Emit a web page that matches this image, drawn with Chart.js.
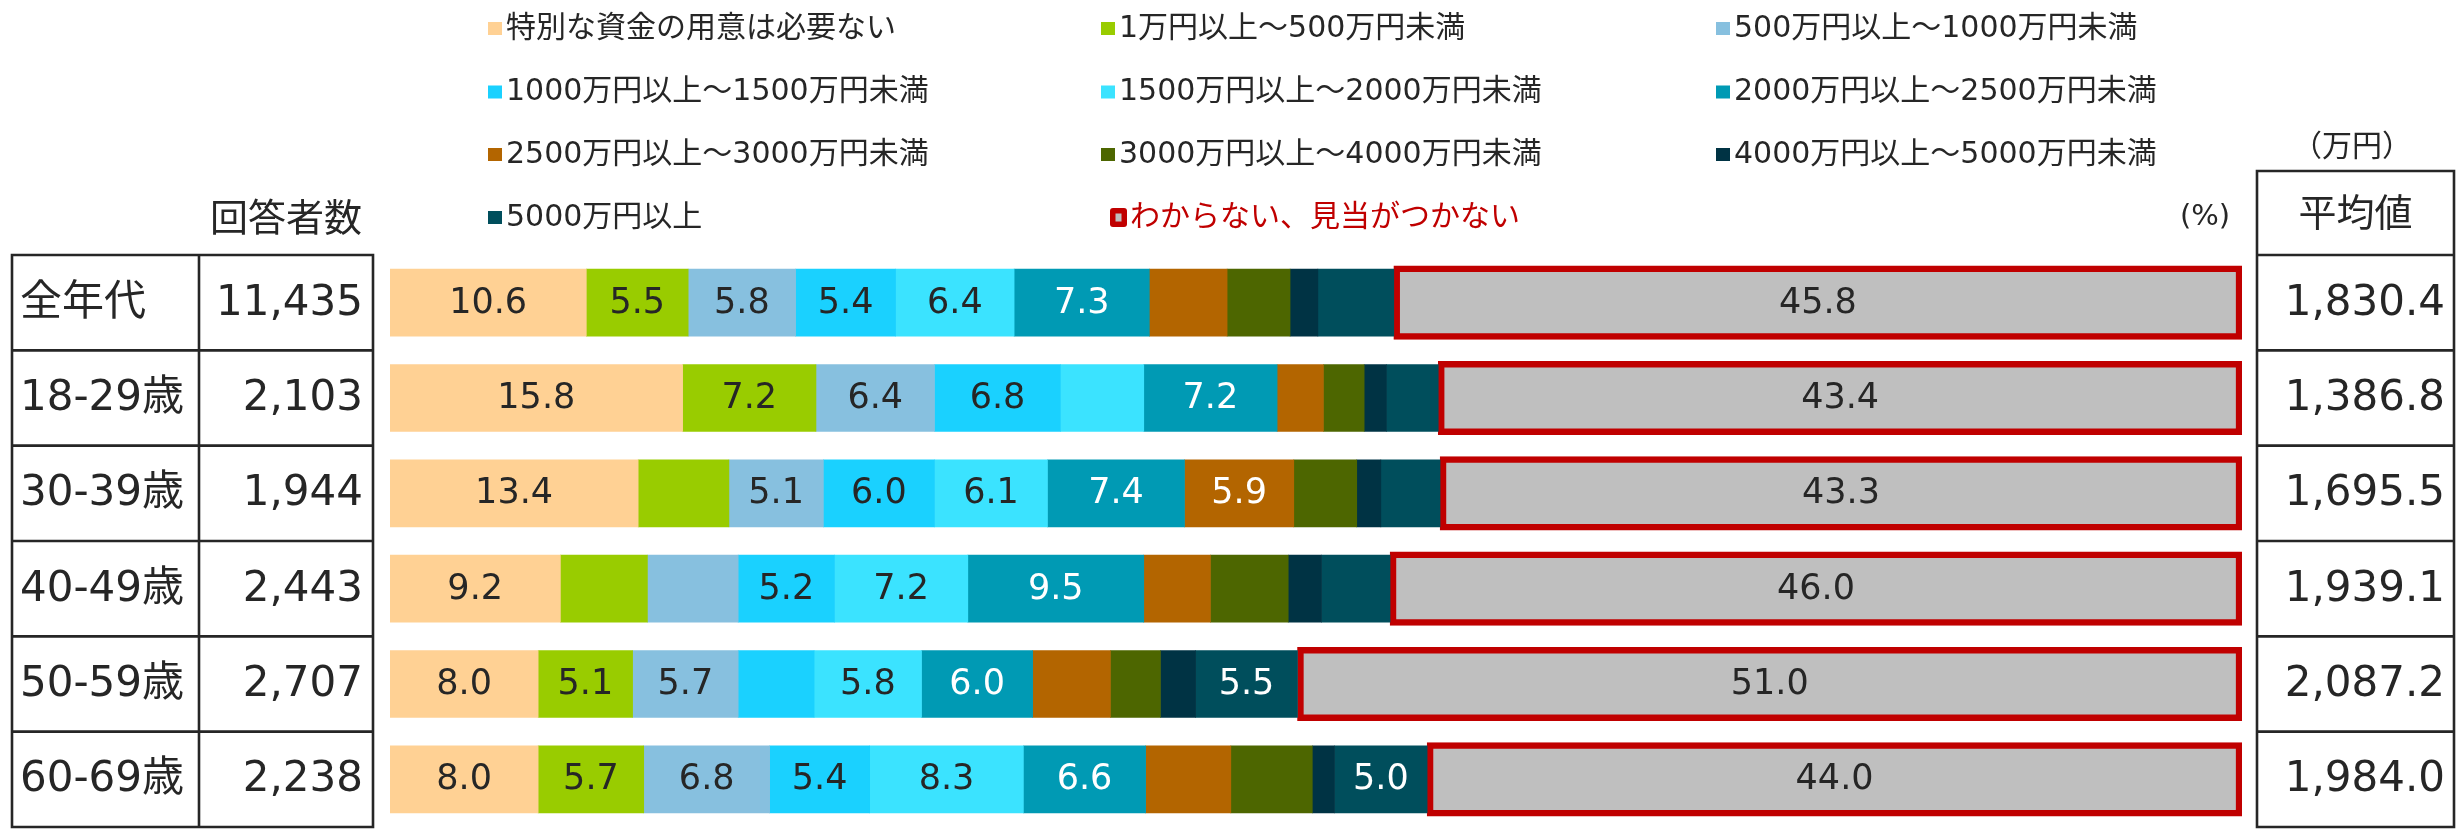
<!DOCTYPE html>
<html lang="ja">
<head>
<meta charset="utf-8">
<title>老後資金の必要額（年代別）</title>
<script src="https://cdn.jsdelivr.net/npm/chart.js@4.4.1/dist/chart.umd.min.js"></script>
<style>
  html, body { margin: 0; padding: 0; background: #ffffff; }
  canvas { display: block; }
</style>
</head>
<body>
<canvas id="chart" width="2459" height="830"></canvas>
<script>
// Age groups (rows), respondent counts and average amount (万円)
const ageGroups   = ['全年代', '18-29歳', '30-39歳', '40-49歳', '50-59歳', '60-69歳'];
const respondents = [11435, 2103, 1944, 2443, 2707, 2238];
const averages    = [1830.4, 1386.8, 1695.5, 1939.1, 2087.2, 1984.0];

// Answer brackets (legend order)
const bracketNames = [
  '特別な資金の用意は必要ない',
  '1万円以上～500万円未満',
  '500万円以上～1000万円未満',
  '1000万円以上～1500万円未満',
  '1500万円以上～2000万円未満',
  '2000万円以上～2500万円未満',
  '2500万円以上～3000万円未満',
  '3000万円以上～4000万円未満',
  '4000万円以上～5000万円未満',
  '5000万円以上',
  'わからない、見当がつかない'
];

// Share of respondents per bracket (%), one value per age group
const noNeed     = [10.6, 15.8, 13.4,  9.2,  8.0,  8.0];
const upTo500    = [ 5.5,  7.2,  4.9,  4.7,  5.1,  5.7];
const upTo1000   = [ 5.8,  6.4,  5.1,  4.9,  5.7,  6.8];
const upTo1500   = [ 5.4,  6.8,  6.0,  5.2,  4.1,  5.4];
const upTo2000   = [ 6.4,  4.5,  6.1,  7.2,  5.8,  8.3];
const upTo2500   = [ 7.3,  7.2,  7.4,  9.5,  6.0,  6.6];
const upTo3000   = [ 4.2,  2.5,  5.9,  3.6,  4.2,  4.6];
const upTo4000   = [ 3.4,  2.2,  3.4,  4.2,  2.7,  4.4];
const upTo5000   = [ 1.5,  1.2,  1.3,  1.8,  1.9,  1.2];
const over5000   = [ 4.1,  2.8,  3.2,  3.7,  5.5,  5.0];
const unknownAmt = [45.8, 43.4, 43.3, 46.0, 51.0, 44.0];

const seriesValues = [noNeed, upTo500, upTo1000, upTo1500, upTo2000, upTo2500,
                      upTo3000, upTo4000, upTo5000, over5000, unknownAmt];

// Styling
const fills = ['#FFD194', '#99CC00', '#87C0DF', '#1AD1FF', '#3BE3FF', '#009AB4',
               '#B36500', '#4D6600', '#003344', '#004E5C', '#BFBFBF'];
const labelInk = ['#262626', '#262626', '#262626', '#262626', '#262626', '#FFFFFF',
                  '#FFFFFF', '#FFFFFF', '#FFFFFF', '#FFFFFF', '#262626'];
const RED = '#C00000';
const INK = '#262626';
const LATIN = '"DejaVu Sans", "Noto Sans CJK JP", sans-serif';
const CJK = '"Noto Sans CJK JP", sans-serif';

const BAR = 67;        // bar thickness
const RING = 6.5;      // outline width of the "unknown" segment

const datasets = seriesValues.map((vals, i) => {
  const last = i === seriesValues.length - 1;
  return {
    label: bracketNames[i],
    data: vals,
    backgroundColor: fills[i],
    borderColor: last ? RED : fills[i],
    borderWidth: last ? RING : 0,
    borderSkipped: false,
    barThickness: last ? BAR + RING : BAR,
    labelColor: labelInk[i]
  };
});

// Values of 5.0 or more are printed in the middle of their segment
const segmentLabels = {
  id: 'segmentLabels',
  afterDatasetsDraw(chart) {
    const ctx = chart.ctx;
    ctx.save();
    ctx.font = '35px ' + LATIN;
    ctx.textAlign = 'center';
    ctx.textBaseline = 'middle';
    chart.data.datasets.forEach((ds, di) => {
      const meta = chart.getDatasetMeta(di);
      meta.data.forEach((el, j) => {
        const v = ds.data[j];
        if (v < 5) return;
        const p = el.getProps(['x', 'base', 'y'], true);
        ctx.fillStyle = ds.labelColor;
        ctx.fillText(v.toFixed(1), (p.x + p.base) / 2, p.y + 1);
      });
    });
    ctx.restore();
  }
};

// Legend: 3 columns, row-major
const gridLegend = {
  id: 'gridLegend',
  afterDraw(chart) {
    const ctx = chart.ctx;
    const cols = [488, 1101, 1716];
    const rows = [28, 91.5, 154, 217];
    ctx.save();
    ctx.font = '30px ' + LATIN;
    ctx.textBaseline = 'middle';
    ctx.textAlign = 'left';
    chart.data.datasets.forEach((ds, i) => {
      const x = cols[i % 3];
      const y = rows[Math.floor(i / 3)];
      if (ds.borderWidth > 0) {
        ctx.fillStyle = ds.borderColor;
        ctx.beginPath();
        ctx.roundRect(x + 9, y - 9, 17, 19, 3);
        ctx.fill();
        ctx.fillStyle = ds.backgroundColor;
        ctx.fillRect(x + 14.5, y - 3.5, 6, 8);
        ctx.fillStyle = ds.borderColor;
        ctx.fillText(ds.label, x + 29, y + 1);
      } else {
        ctx.fillStyle = ds.backgroundColor;
        ctx.fillRect(x, y - 6, 14, 13);
        ctx.fillStyle = INK;
        ctx.fillText(ds.label, x + 18, y + 1);
      }
    });
    ctx.restore();
  }
};

// Respondent table on the left, average table on the right
const sideTables = {
  id: 'sideTables',
  afterDraw(chart) {
    const ctx = chart.ctx;
    const y = chart.scales.y;
    const centers = ageGroups.map((_, i) => y.getPixelForValue(i));
    const step = centers[1] - centers[0];
    const bounds = [centers[0] - step / 2].concat(centers.map(c => c + step / 2));
    const top = bounds[0], bottom = bounds[bounds.length - 1];
    const L = [12, 199, 373];
    const R = [2257, 2454];
    const headTop = 171;

    ctx.save();
    ctx.strokeStyle = INK;
    ctx.lineWidth = 2.6;
    ctx.beginPath();
    L.forEach(x => { ctx.moveTo(x, top - 1.3); ctx.lineTo(x, bottom + 1.3); });
    bounds.forEach(b => { ctx.moveTo(L[0], b); ctx.lineTo(L[2], b); });
    R.forEach(x => { ctx.moveTo(x, headTop - 1.3); ctx.lineTo(x, bottom + 1.3); });
    [headTop].concat(bounds).forEach(b => { ctx.moveTo(R[0], b); ctx.lineTo(R[1], b); });
    ctx.stroke();

    ctx.fillStyle = INK;
    ctx.textBaseline = 'middle';

    ctx.font = '38px ' + CJK;
    ctx.textAlign = 'center';
    ctx.fillText('回答者数', (L[1] + L[2]) / 2, 217);
    ctx.fillText('平均値', (R[0] + R[1]) / 2, 212);

    ctx.font = '30px ' + CJK;
    ctx.fillText('（万円）', 2352, 145);
    ctx.font = '29px ' + LATIN;
    ctx.fillText('(%)', 2205, 217);

    ctx.font = '42px ' + LATIN;
    centers.forEach((c, i) => {
      ctx.textAlign = 'left';
      ctx.fillText(ageGroups[i], 20, c + 1);
      ctx.textAlign = 'right';
      ctx.fillText(respondents[i].toLocaleString('en-US'), 363, c + 1);
      ctx.fillText(averages[i].toLocaleString('en-US', { minimumFractionDigits: 1, maximumFractionDigits: 1 }), 2445, c + 1);
    });
    ctx.restore();
  }
};

new Chart(document.getElementById('chart'), {
  type: 'bar',
  data: { labels: ageGroups, datasets },
  options: {
    indexAxis: 'y',
    responsive: false,
    animation: false,
    devicePixelRatio: 1,
    layout: { padding: { left: 390, right: 217, top: 255, bottom: 3 } },
    scales: {
      x: { stacked: true, min: 0, max: 100, display: false },
      y: { stacked: true, display: false }
    },
    plugins: {
      legend: { display: false },
      tooltip: { enabled: false }
    }
  },
  plugins: [segmentLabels, gridLegend, sideTables]
});
</script>
</body>
</html>
